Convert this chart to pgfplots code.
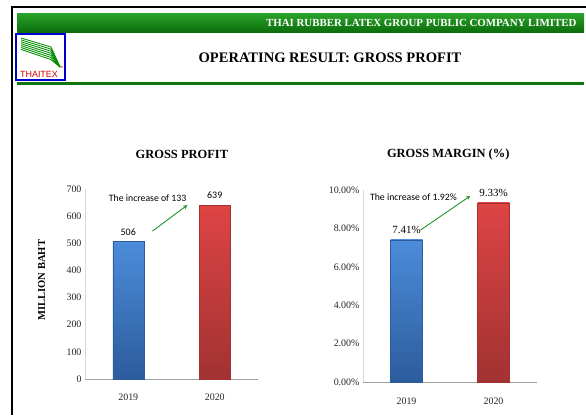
\documentclass[border=0pt]{standalone}
\usepackage{pgfplots}
\pgfplotsset{compat=1.18}
\usepackage{fontspec}
\setmainfont{Liberation Serif}
\newfontfamily\calibri{Carlito}
\newfontfamily\arial{Liberation Sans}

\definecolor{barblueT}{RGB}{76,140,218}
\definecolor{barblueB}{RGB}{44,92,156}
\definecolor{barredT}{RGB}{222,68,68}
\definecolor{barredB}{RGB}{162,50,50}
\definecolor{hdrgreenT}{RGB}{40,160,40}
\definecolor{hdrgreenB}{RGB}{12,110,12}
\definecolor{arrowgreen}{RGB}{30,150,40}
\definecolor{ticktext}{RGB}{40,40,40}

\pgfplotsset{
  chartbase/.style={
    scale only axis,
    axis x line*=bottom, axis y line*=left,
    x axis line style={draw=gray!75, -},
    y axis line style={draw=gray!30, -},
    major tick length=0pt,
    xmin=-0.5, xmax=1.5,
    xtick={0,1}, xticklabels={2019,2020},
    tick label style={font=\fontsize{10}{11}\selectfont, text=ticktext},
    xticklabel style={yshift=-11bp},
    /pgf/number format/assume math mode=true,
    clip=false,
    title style={font=\bfseries\fontsize{12.5}{13}\selectfont},
  },
}

\begin{document}
\begin{tikzpicture}
\begin{scope}[x=1bp,y=1bp]
\useasboundingbox (0,0) rectangle (586,415);
\fill[white] (0,0) rectangle (586,415);
% frame
\draw[black, line width=1.6bp] (12,0) -- (12,408) -- (586,408);
% header bar
\shade[top color=hdrgreenT, bottom color=hdrgreenB] (17,383) rectangle (584,401);
\node[anchor=east, text=white, font=\bfseries\fontsize{10.9}{11}\selectfont] at (580,392) {THAI RUBBER LATEX GROUP PUBLIC COMPANY LIMITED};
\fill[hdrgreenB!85!hdrgreenT] (17,330) rectangle (584,333);
% logo
\draw[blue!80!black, line width=1.2bp] (16,335) rectangle (65,381);
\foreach \i in {0,...,6}{
  \draw[green!55!black, line width=0.85bp] (21,377-1.9*\i) -- (51,368-2.1*\i) -- (60,348);
}
\node[text=red!85!black, font=\arial\fontsize{9}{9}\selectfont] at (39,341) {THAITEX};
\node[text=red!85!black, font=\arial\fontsize{3.5}{4}\selectfont] at (62,348) {\textregistered};
% page title
\node[font=\bfseries\fontsize{14.6}{15}\selectfont] at (330,357) {OPERATING RESULT: GROSS PROFIT};
\end{scope}

% left chart
\begin{axis}[chartbase,
  at={(85bp,36bp)}, anchor=south west, width=173bp, height=190bp,
  ymin=0, ymax=700, ytick={0,100,...,700},
  title={GROSS PROFIT},
  title style={at={(axis description cs:0.56,1.15)}, anchor=center},
  ylabel={MILLION BAHT},
  ylabel style={at={(axis description cs:-0.25,0.52)}, anchor=center, font=\bfseries\fontsize{10.6}{11}\selectfont},
  nodes near coords,
  every node near coord/.append style={font=\calibri\fontsize{10}{11}\selectfont, yshift=3bp},
]
\addplot[ybar, bar width=31bp, bar shift=0pt, draw=barblueB, line width=0.4bp, top color=barblueT, bottom color=barblueB] coordinates {(0,506)};
\addplot[ybar, bar width=31bp, bar shift=0pt, draw=barredB, line width=0.4bp, top color=barredT, bottom color=barredB] coordinates {(1,639)};
\node[font=\calibri\fontsize{9.8}{10}\selectfont] at (axis cs:0.224,667) {The increase of 133};
\draw[-stealth, arrowgreen, line width=0.9bp] (axis cs:0.28,545) -- (axis cs:0.684,641);
\end{axis}

% right chart
\begin{axis}[chartbase,
  at={(363bp,33bp)}, anchor=south west, width=174bp, height=192bp,
  ymin=0, ymax=10, ytick={0,2,...,10},
  yticklabels={0.00\%,2.00\%,4.00\%,6.00\%,8.00\%,10.00\%},
  xticklabel style={yshift=-1bp},
  title={GROSS MARGIN (\%)},
  title style={at={(axis description cs:0.49,1.155)}, anchor=center},
  nodes near coords={\pgfmathprintnumber[fixed,fixed zerofill,precision=2]{\pgfplotspointmeta}\%},
  every node near coord/.append style={font=\fontsize{11}{12}\selectfont, yshift=3bp},
]
\addplot[ybar, bar width=32bp, bar shift=0pt, draw=barblueB, line width=0.4bp, top color=barblueT, bottom color=barblueB] coordinates {(0,7.41)};
\addplot[ybar, bar width=32bp, bar shift=0pt, draw=barredB, line width=0.4bp, top color=barredT, bottom color=barredB] coordinates {(1,9.33)};
\node[font=\calibri\fontsize{9.8}{10}\selectfont] at (axis cs:0.08,9.64) {The increase of 1.92\%};
\draw[-stealth, arrowgreen, line width=0.9bp] (axis cs:0.163,7.92) -- (axis cs:0.733,9.69);
\end{axis}
\end{tikzpicture}
\end{document}
